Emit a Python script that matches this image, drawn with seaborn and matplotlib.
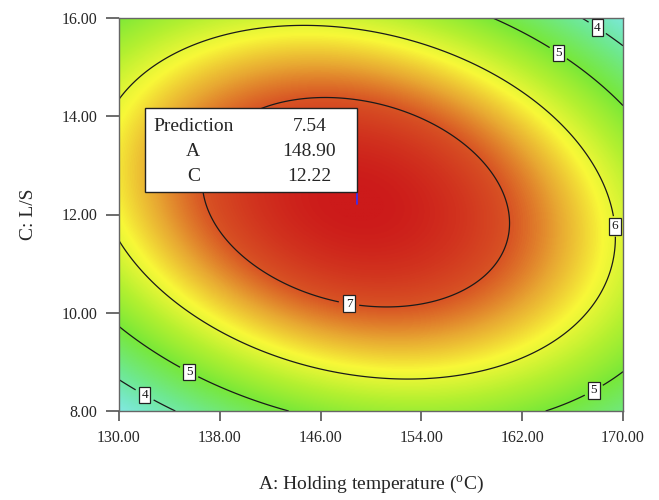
import numpy as np
import matplotlib
matplotlib.use("Agg")
import matplotlib.pyplot as plt
import seaborn as sns
from matplotlib.colors import LinearSegmentedColormap
from matplotlib.patches import Rectangle

# response surface (fitted quadratic, written around its optimum)
opt_point = [148.8, 12.25]          # A (degC), C (L/S)
opt_value = 7.54
curvature = [-0.003783, -0.1238, -0.008657]   # AA, CC, AC

a_range = [130.0, 170.0]
c_range = [8.0, 16.0]
x_ticks = [130, 138, 146, 154, 162, 170]
y_ticks = [8, 10, 12, 14, 16]
levels = [4, 5, 6, 7]

# where the contour labels sit (A, C)
label_spots = [(132.3, 8.45), (167.9, 15.78), (135.8, 8.91), (164.8, 15.26),
               (167.6, 8.46), (169.0, 11.75), (148.4, 10.41)]

pred_names = ["Prediction", "A", "C"]
pred_values = ["7.54", "148.90", "12.22"]
pred_point = [148.9, 12.22]

# colour ramp of the response
ramp_values = [3.0, 3.6, 4.2, 5.0, 5.6, 6.15, 6.6, 7.0, 7.54]
ramp_colours = ["#8ae8f4", "#78e8c8", "#6ee890", "#78e838", "#b4f030",
                "#f8f838", "#e8a832", "#d85424", "#cc1a1a"]

sns.set_theme(style="ticks")
plt.rcParams["font.family"] = ["Liberation Serif", "DejaVu Serif"]
plt.rcParams["mathtext.fontset"] = "custom"
plt.rcParams["mathtext.rm"] = "Liberation Serif"

A = np.linspace(a_range[0], a_range[1], 500)
C = np.linspace(c_range[0], c_range[1], 500)
AA, CC = np.meshgrid(A, C)
dA = AA - opt_point[0]
dC = CC - opt_point[1]
Z = opt_value + curvature[0] * dA**2 + curvature[1] * dC**2 + curvature[2] * dA * dC

lo, hi = ramp_values[0], ramp_values[-1]
cmap = LinearSegmentedColormap.from_list(
    "resp", [((v - lo) / (hi - lo), c) for v, c in zip(ramp_values, ramp_colours)])

fig = plt.figure(figsize=(6.59, 5.0), dpi=100)
ax = fig.add_axes([0.1806, 0.178, 0.7648, 0.786])

ax.imshow(Z, extent=[a_range[0], a_range[1], c_range[0], c_range[1]], origin="lower",
          aspect="auto", cmap=cmap, vmin=lo, vmax=hi, interpolation="bilinear")
cs = ax.contour(AA, CC, Z, levels=levels, colors="#1a1a1a", linewidths=0.9)
labels = ax.clabel(cs, fmt="%d", fontsize=9.5, inline=True, inline_spacing=7,
                   manual=label_spots)
for t in labels:
    t.set_bbox(dict(boxstyle="square,pad=0.18", fc="white", ec="#222222", lw=0.9))
    t.set_rotation(0)

# prediction flag
ax.plot([pred_point[0], pred_point[0]], [pred_point[1], pred_point[1] + 0.25],
        color="#3030ff", lw=1.2, zorder=5)
box_w, box_h = 16.8, 1.71
bx0 = pred_point[0] - box_w
by0 = pred_point[1] + 0.23
ax.add_patch(Rectangle((bx0, by0), box_w, box_h, fc="white", ec="#222222", lw=1.0, zorder=6))
row_y = [by0 + box_h - 0.36, by0 + box_h - 0.88, by0 + box_h - 1.39]
for i, (n, v) in enumerate(zip(pred_names, pred_values)):
    if i == 0:
        ax.text(bx0 + 0.6, row_y[i], n, ha="left", va="center", fontsize=14, zorder=7)
    else:
        ax.text(bx0 + 3.8, row_y[i], n, ha="center", va="center", fontsize=14, zorder=7)
    ax.text(bx0 + 13.0, row_y[i], v, ha="center", va="center", fontsize=14, zorder=7)

ax.set_xlim(a_range)
ax.set_ylim(c_range)
ax.set_xticks(x_ticks)
ax.set_yticks(y_ticks)
ax.set_xticklabels([f"{v:.2f}" for v in x_ticks])
ax.set_yticklabels([f"{v:.2f}" for v in y_ticks])
ax.tick_params(axis="x", direction="out", length=7.5, width=1.1, color="#444444",
               labelsize=11.5, pad=6)
ax.tick_params(axis="y", direction="out", length=9.5, width=1.1, color="#444444",
               labelsize=11.5, pad=6)
for s in ax.spines.values():
    s.set_color("#666666")
    s.set_linewidth(1.0)

ax.set_xlabel(r"A: Holding temperature ($^{\rm o}$C)", fontsize=14, labelpad=20)
ax.set_ylabel("C: L/S", fontsize=14, labelpad=18)

fig.savefig("out.png", dpi=100)
